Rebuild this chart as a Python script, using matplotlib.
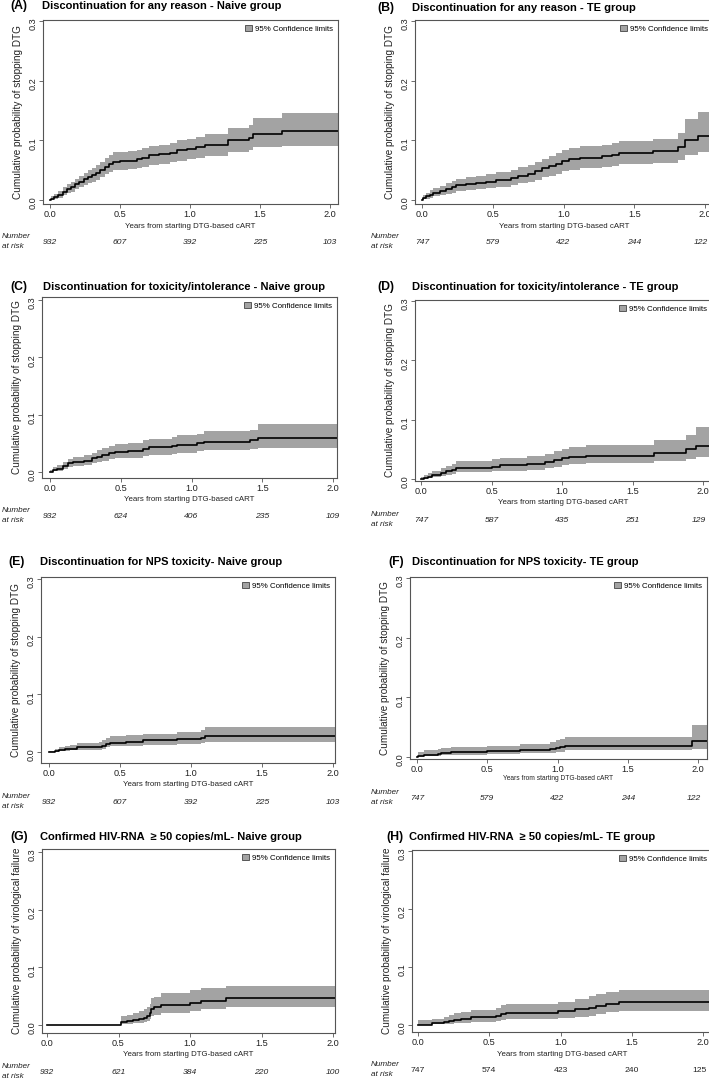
import matplotlib
matplotlib.use('Agg')
import matplotlib.pyplot as plt
from matplotlib.patches import Patch

plt.rcParams['font.family'] = ['Liberation Sans', 'DejaVu Sans']

W, H = 709, 1079
BAND = '#a3a3a3'
SPINE = '#555555'

# ---- data (step times in years, cumulative probability) ----
A_time = [0.00, 0.01, 0.03, 0.06, 0.09, 0.12, 0.15, 0.18, 0.21, 0.24, 0.27, 0.30, 0.33, 0.36, 0.39, 0.42,
          0.45, 0.50, 0.56, 0.62, 0.66, 0.71, 0.78, 0.86, 0.91, 0.98, 1.04, 1.11, 1.27, 1.42, 1.45, 1.66]
A_est = [0.000, 0.002, 0.005, 0.009, 0.014, 0.018, 0.022, 0.027, 0.031, 0.035, 0.039, 0.042, 0.046, 0.051, 0.056, 0.061,
         0.064, 0.065, 0.066, 0.068, 0.071, 0.075, 0.077, 0.079, 0.083, 0.085, 0.088, 0.093, 0.100, 0.104, 0.110, 0.115]
A_lo = [0.000, 0.000, 0.002, 0.004, 0.008, 0.011, 0.014, 0.018, 0.021, 0.025, 0.028, 0.031, 0.034, 0.038, 0.043, 0.047,
        0.050, 0.051, 0.052, 0.053, 0.056, 0.059, 0.061, 0.063, 0.066, 0.068, 0.070, 0.074, 0.080, 0.083, 0.088, 0.090]
A_hi = [0.002, 0.006, 0.010, 0.015, 0.021, 0.026, 0.031, 0.036, 0.041, 0.046, 0.050, 0.054, 0.058, 0.064, 0.070, 0.076,
        0.080, 0.081, 0.082, 0.084, 0.087, 0.091, 0.093, 0.095, 0.100, 0.102, 0.106, 0.111, 0.120, 0.125, 0.138, 0.146]
A_risk = [932, 607, 392, 225, 103]

B_time = [0.00, 0.01, 0.03, 0.06, 0.08, 0.13, 0.17, 0.21, 0.24, 0.31, 0.38, 0.45, 0.52, 0.63, 0.68, 0.75,
          0.80, 0.85, 0.90, 0.95, 0.99, 1.04, 1.12, 1.27, 1.34, 1.39, 1.63, 1.81, 1.86, 1.95]
B_est = [0.000, 0.003, 0.006, 0.009, 0.012, 0.015, 0.018, 0.021, 0.025, 0.027, 0.029, 0.031, 0.034, 0.037, 0.041, 0.044,
         0.048, 0.053, 0.057, 0.061, 0.065, 0.068, 0.071, 0.073, 0.076, 0.079, 0.082, 0.089, 0.100, 0.108]
B_lo = [0.000, 0.001, 0.002, 0.004, 0.006, 0.008, 0.010, 0.012, 0.015, 0.017, 0.018, 0.020, 0.022, 0.025, 0.028, 0.030,
        0.034, 0.038, 0.041, 0.044, 0.048, 0.050, 0.053, 0.055, 0.057, 0.060, 0.062, 0.067, 0.075, 0.080]
B_hi = [0.003, 0.008, 0.012, 0.016, 0.020, 0.024, 0.028, 0.032, 0.036, 0.039, 0.041, 0.044, 0.047, 0.051, 0.055, 0.058,
        0.063, 0.069, 0.074, 0.078, 0.083, 0.087, 0.090, 0.092, 0.095, 0.099, 0.103, 0.112, 0.136, 0.147]
B_risk = [747, 579, 422, 244, 122]

C_time = [0.00, 0.02, 0.05, 0.09, 0.13, 0.16, 0.24, 0.30, 0.33, 0.37, 0.42, 0.46, 0.55, 0.66, 0.70, 0.86,
          0.90, 1.04, 1.09, 1.41, 1.47]
C_est = [0.000, 0.003, 0.006, 0.010, 0.015, 0.018, 0.020, 0.024, 0.027, 0.030, 0.033, 0.035, 0.037, 0.040, 0.043, 0.045,
         0.047, 0.050, 0.053, 0.055, 0.059]
C_lo = [0.000, 0.001, 0.002, 0.005, 0.008, 0.010, 0.012, 0.015, 0.017, 0.020, 0.022, 0.024, 0.025, 0.028, 0.030, 0.032,
        0.034, 0.036, 0.038, 0.040, 0.042]
C_hi = [0.003, 0.008, 0.012, 0.017, 0.023, 0.026, 0.029, 0.034, 0.038, 0.042, 0.046, 0.049, 0.051, 0.055, 0.058, 0.061,
        0.064, 0.067, 0.071, 0.073, 0.083]
C_risk = [932, 624, 406, 235, 109]

D_time = [0.00, 0.02, 0.05, 0.08, 0.14, 0.18, 0.22, 0.25, 0.50, 0.56, 0.75, 0.88, 0.94, 1.00, 1.05, 1.17,
          1.65, 1.88, 1.95]
D_est = [0.000, 0.002, 0.004, 0.007, 0.010, 0.013, 0.016, 0.019, 0.021, 0.023, 0.026, 0.028, 0.032, 0.035, 0.037, 0.039,
         0.044, 0.050, 0.056]
D_lo = [0.000, 0.000, 0.001, 0.003, 0.005, 0.007, 0.009, 0.011, 0.013, 0.014, 0.016, 0.018, 0.021, 0.023, 0.025, 0.027,
        0.030, 0.034, 0.037]
D_hi = [0.003, 0.007, 0.010, 0.014, 0.018, 0.022, 0.026, 0.030, 0.033, 0.036, 0.039, 0.042, 0.047, 0.051, 0.054, 0.057,
        0.065, 0.075, 0.088]
D_risk = [747, 587, 435, 251, 129]

E_time = [0.00, 0.04, 0.07, 0.11, 0.15, 0.20, 0.35, 0.37, 0.40, 0.43, 0.54, 0.66, 0.90, 1.07, 1.10]
E_est = [0.000, 0.002, 0.004, 0.005, 0.006, 0.008, 0.009, 0.011, 0.014, 0.016, 0.018, 0.020, 0.022, 0.025, 0.028]
E_lo = [0.000, 0.000, 0.001, 0.002, 0.003, 0.004, 0.004, 0.006, 0.008, 0.010, 0.011, 0.012, 0.014, 0.016, 0.018]
E_hi = [0.001, 0.006, 0.009, 0.011, 0.013, 0.015, 0.017, 0.020, 0.024, 0.027, 0.029, 0.032, 0.034, 0.038, 0.044]
E_risk = [932, 607, 392, 225, 103]

F_time = [0.00, 0.01, 0.05, 0.15, 0.17, 0.24, 0.50, 0.73, 0.95, 0.99, 1.02, 1.05, 1.96]
F_est = [0.000, 0.002, 0.004, 0.005, 0.007, 0.008, 0.010, 0.012, 0.013, 0.015, 0.017, 0.019, 0.026]
F_lo = [0.000, 0.000, 0.001, 0.002, 0.003, 0.004, 0.005, 0.006, 0.007, 0.008, 0.009, 0.011, 0.013]
F_hi = [0.001, 0.009, 0.011, 0.013, 0.015, 0.017, 0.019, 0.022, 0.025, 0.028, 0.031, 0.034, 0.053]
F_risk = [747, 579, 422, 244, 122]

G_time = [0.00, 0.52, 0.56, 0.60, 0.64, 0.68, 0.70, 0.72, 0.73, 0.75, 0.80, 1.00, 1.08, 1.25]
G_est = [0.000, 0.005, 0.007, 0.009, 0.011, 0.013, 0.016, 0.020, 0.028, 0.031, 0.035, 0.038, 0.042, 0.046]
G_lo = [0.000, 0.001, 0.002, 0.003, 0.004, 0.005, 0.007, 0.010, 0.016, 0.018, 0.021, 0.024, 0.027, 0.031]
G_hi = [0.000, 0.015, 0.018, 0.021, 0.024, 0.027, 0.031, 0.036, 0.046, 0.049, 0.055, 0.060, 0.064, 0.068]
G_risk = [932, 621, 384, 220, 100]

H_time = [0.00, 0.10, 0.18, 0.22, 0.25, 0.30, 0.37, 0.55, 0.58, 0.62, 0.98, 1.10, 1.20, 1.25, 1.32, 1.41]
H_est = [0.000, 0.003, 0.005, 0.007, 0.009, 0.010, 0.013, 0.016, 0.019, 0.021, 0.024, 0.027, 0.030, 0.033, 0.036, 0.039]
H_lo = [0.000, 0.001, 0.001, 0.002, 0.003, 0.004, 0.005, 0.007, 0.009, 0.010, 0.012, 0.014, 0.016, 0.019, 0.022, 0.025]
H_hi = [0.008, 0.011, 0.014, 0.017, 0.020, 0.022, 0.026, 0.030, 0.034, 0.036, 0.040, 0.044, 0.050, 0.053, 0.057, 0.060]
H_risk = [747, 574, 423, 240, 125]

titles = {
    'A': 'Discontinuation for any reason - Naive group',
    'B': 'Discontinuation for any reason - TE group',
    'C': 'Discontinuation for toxicity/intolerance - Naive group',
    'D': 'Discontinuation for toxicity/intolerance - TE group',
    'E': 'Discontinuation for NPS toxicity- Naive group',
    'F': 'Discontinuation for NPS toxicity- TE group',
    'G': 'Confirmed HIV-RNA  \u2265 50 copies/mL- Naive group',
    'H': 'Confirmed HIV-RNA  \u2265 50 copies/mL- TE group',
}
ylab_stop = 'Cumulative probability of stopping DTG'
ylab_vf = 'Cumulative probability of virological failure'
xlab = 'Years from starting DTG-based cART'
xticks = [0.0, 0.5, 1.0, 1.5, 2.0]
yticks = [0.0, 0.1, 0.2, 0.3]

series = {
    'A': (A_time, A_est, A_lo, A_hi, A_risk),
    'B': (B_time, B_est, B_lo, B_hi, B_risk),
    'C': (C_time, C_est, C_lo, C_hi, C_risk),
    'D': (D_time, D_est, D_lo, D_hi, D_risk),
    'E': (E_time, E_est, E_lo, E_hi, E_risk),
    'F': (F_time, F_est, F_lo, F_hi, F_risk),
    'G': (G_time, G_est, G_lo, G_hi, G_risk),
    'H': (H_time, H_est, H_lo, H_hi, H_risk),
}

# ---- layout in pixels: x of 0.0, x of 2.0, box left, box right, y of 0.0, y of 0.3, box top, box bottom ----
geom = {
    'A': (50, 330, 43, 338, 200, 21, 20, 204),
    'B': (422, 705, 415, 713, 200, 21, 20, 204),
    'C': (50, 333, 42, 337, 472, 300, 297, 478),
    'D': (421, 703, 415, 712, 479, 301, 300, 481),
    'E': (49, 333, 41, 335, 752, 579, 577, 763),
    'F': (417, 698, 410, 707, 757, 578, 577, 759),
    'G': (47, 333, 42, 335, 1025, 852, 849, 1033),
    'H': (418, 703, 412, 712, 1025, 851, 850, 1032),
}
# title row centre y, "(X)" left x, title left x
title_pos = {
    'A': (6, 10, 42), 'B': (8, 377, 412),
    'C': (287, 10, 43), 'D': (287, 377, 412),
    'E': (562, 8, 40), 'F': (562, 388, 412),
    'G': (837, 10, 40), 'H': (837, 386, 409),
}

PT = 0.72  # points per pixel at dpi 100

fig = plt.figure(figsize=(W / 100, H / 100), dpi=100)

for key in 'ABCDEFGH':
    x0, x2, left, right, y0, y3, top, bottom = geom[key]
    ax = fig.add_axes([left / W, 1 - bottom / H, (right - left) / W, (bottom - top) / H])
    kx = (x2 - x0) / 2.0
    my = (y0 - y3) / 0.3
    ax.set_xlim((left - x0) / kx, (right - x0) / kx)
    ax.set_ylim((y0 - bottom) / my, (y0 - top) / my)

    t, est, lo, hi, risk = series[key]
    t2 = t + [2.2]
    ax.fill_between(t2, lo + [lo[-1]], hi + [hi[-1]], step='post', color=BAND, lw=0)
    ax.step(t2, est + [est[-1]], where='post', color='black', lw=1.2)

    ax.set_xticks(xticks)
    ax.set_xticklabels([f'{v:.1f}' for v in xticks])
    ax.set_yticks(yticks)
    ax.set_yticklabels([f'{v:.1f}' for v in yticks])
    ax.tick_params(direction='out', length=3, width=0.6, color=SPINE, labelcolor='#222222', labelsize=6.6, pad=1.2)
    ax.tick_params(axis='y', labelrotation=90, pad=0.6)
    for s in ax.spines.values():
        s.set_color(SPINE)
        s.set_linewidth(0.8)

    h_px = bottom - top
    w_px = right - left
    ax.set_ylabel(ylab_vf if key in 'GH' else ylab_stop, fontsize=7.2, color='#222222')
    ax.yaxis.set_label_coords(-25 / w_px, 0.5)
    ax.yaxis.label.set_va('center')
    ax.set_xlabel(xlab, fontsize=4.8 if key == 'F' else 5.7, color='#222222')
    ax.xaxis.set_label_coords(0.5, -(19 if key == 'F' else 22) / h_px)
    ax.xaxis.label.set_va('center')

    ax.legend(handles=[Patch(facecolor=BAND, edgecolor='#444444', lw=0.6, label='95% Confidence limits')],
              loc='upper right', frameon=False, fontsize=5.7, handlelength=0.8, handleheight=0.8,
              handletextpad=0.4, borderaxespad=0.25)

    # number at risk table
    style = 'normal' if key == 'H' else 'italic'
    right_col = left > 200
    for i, (xv, n) in enumerate(zip(xticks, risk)):
        dx = -4 if (right_col and i == len(risk) - 1) else 0
        ax.annotate(str(n), xy=(xv, 0), xycoords=('data', 'axes fraction'),
                    xytext=(dx * PT, -39 * PT), textcoords='offset points',
                    ha='center', va='center', fontsize=6.1, style=style, color='#222222')
    lab_x = 371 - left if right_col else 2 - left
    ax.annotate('Number', xy=(0, 0), xycoords='axes fraction', xytext=(lab_x * PT, -33 * PT),
                textcoords='offset points', ha='left', va='center', fontsize=5.9, style='italic', color='#222222')
    ax.annotate('at risk', xy=(0, 0), xycoords='axes fraction', xytext=(lab_x * PT, -43 * PT),
                textcoords='offset points', ha='left', va='center', fontsize=5.9, style='italic', color='#222222')

    ty, lx, tx = title_pos[key]
    fig.text(lx / W, 1 - ty / H, f'({key})', fontsize=8.8, fontweight='bold', ha='left', va='center')
    fig.text(tx / W, 1 - ty / H, titles[key], fontsize=8, fontweight='bold', ha='left', va='center')

fig.savefig('out.png', dpi=100)
